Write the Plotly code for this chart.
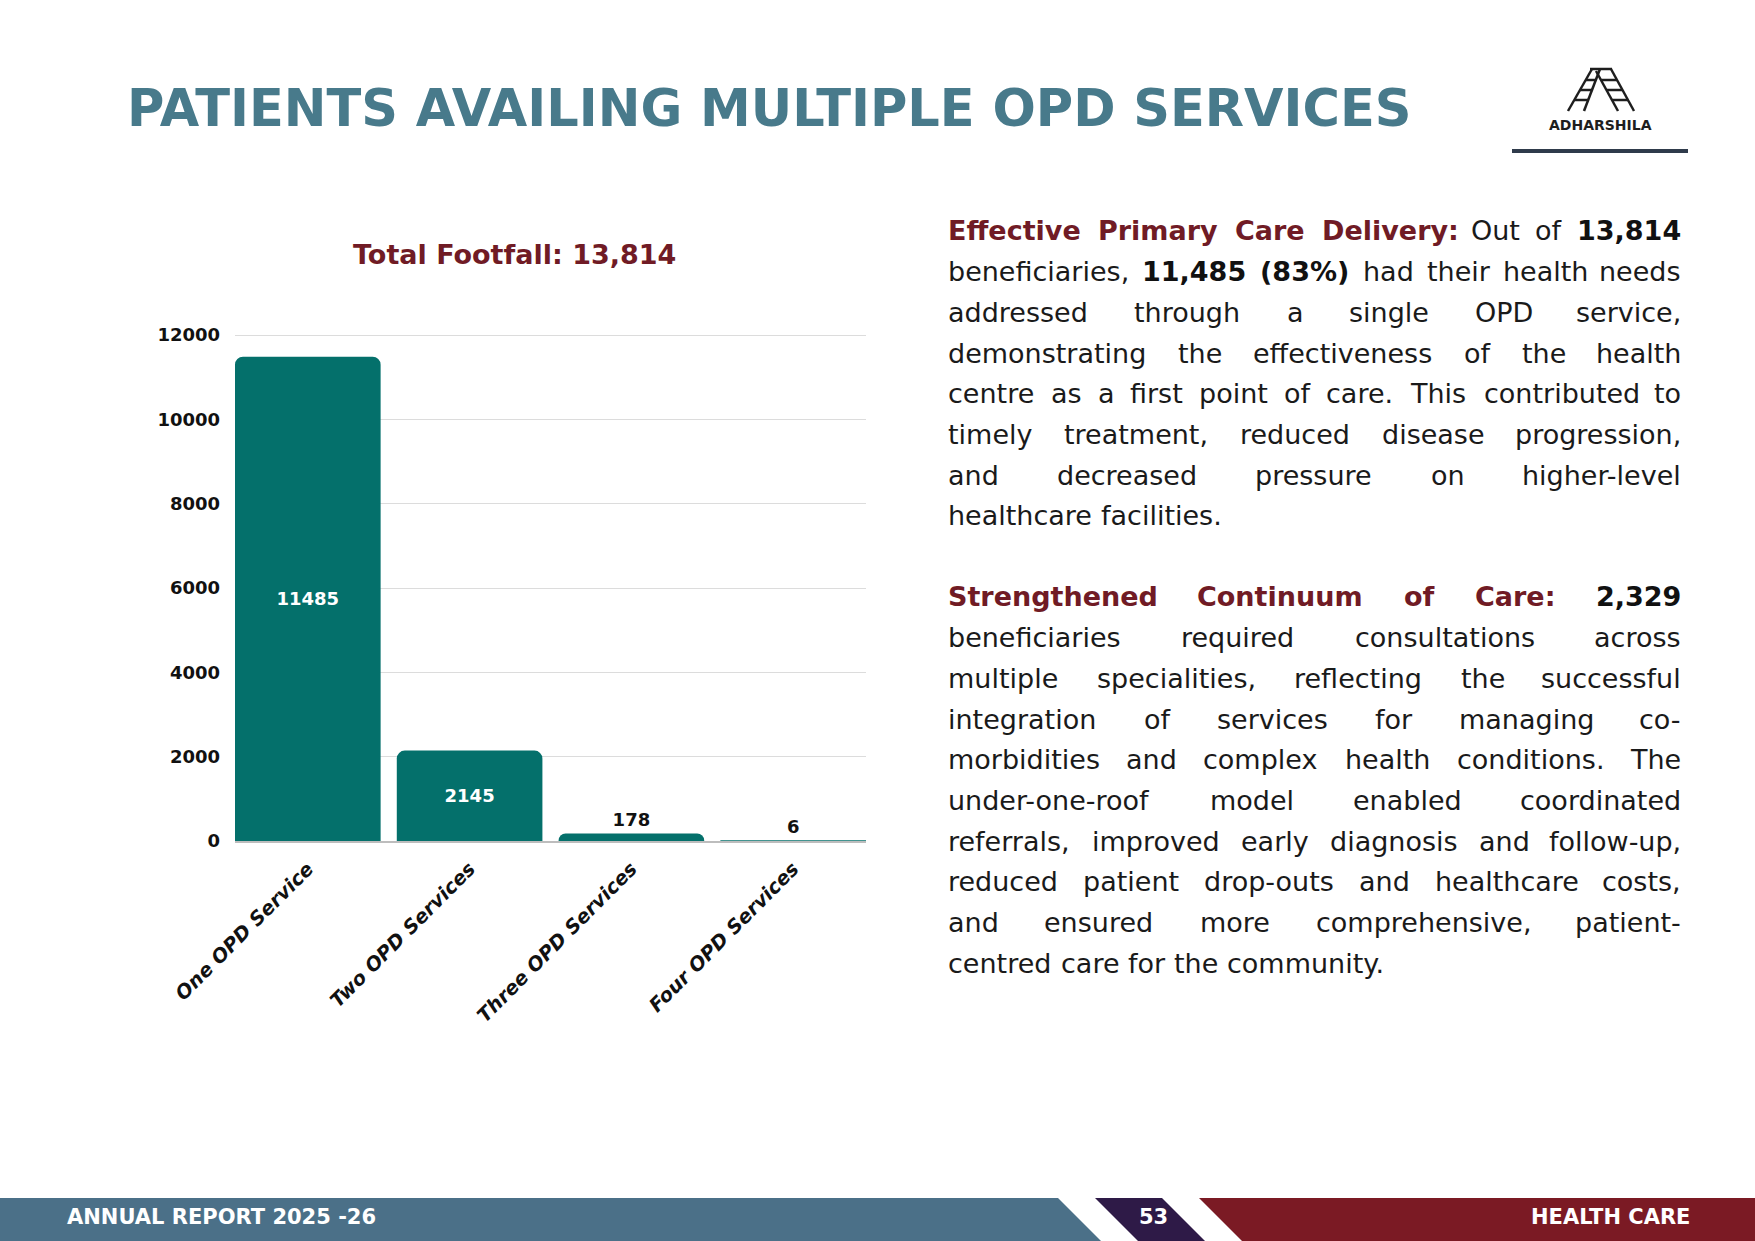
import plotly.graph_objects as go

# page size in px (the reference is a report page)
W, H = 1755, 1241

# ---- chart data ----
categories = ["One OPD Service", "Two OPD Services", "Three OPD Services", "Four OPD Services"]
patients = [11485, 2145, 178, 6]
label_inside = [True, True, False, False]
total_footfall = "13,814"
y_ticks = [0, 2000, 4000, 6000, 8000, 10000, 12000]
y_tick_text = ["0", "2000", "4000", "6000", "8000", "10000", "12000"]

page_title = "PATIENTS AVAILING MULTIPLE OPD SERVICES"
chart_title = "Total Footfall: " + total_footfall

# paragraph lines: "^word" = maroon bold, "*word" = bold
para_one = [
    "^Effective ^Primary ^Care ^Delivery: Out of *13,814",
    "beneficiaries, *11,485 *(83%) had their health needs",
    "addressed through a single OPD service,",
    "demonstrating the effectiveness of the health",
    "centre as a first point of care. This contributed to",
    "timely treatment, reduced disease progression,",
    "and decreased pressure on higher-level",
    "healthcare facilities.",
]
para_two = [
    "^Strengthened ^Continuum ^of ^Care: *2,329",
    "beneficiaries required consultations across",
    "multiple specialities, reflecting the successful",
    "integration of services for managing co-",
    "morbidities and complex health conditions. The",
    "under-one-roof model enabled coordinated",
    "referrals, improved early diagnosis and follow-up,",
    "reduced patient drop-outs and healthcare costs,",
    "and ensured more comprehensive, patient-",
    "centred care for the community.",
]

FONT = "DejaVu Sans"
TEAL = "#04706b"
MAROON = "#701b25"
SLATE = "#487a8b"


def px(x):
    return x / W


def py(y):
    return 1 - y / H


# rough DejaVu Sans advance widths (em), used to spread words for justified text
CHAR_W = {
    "a": .613, "b": .635, "c": .550, "d": .635, "e": .615, "f": .352, "g": .635,
    "h": .634, "i": .278, "j": .278, "k": .579, "l": .278, "m": .974, "n": .634,
    "o": .612, "p": .635, "q": .635, "r": .411, "s": .521, "t": .392, "u": .634,
    "v": .592, "w": .818, "x": .592, "y": .592, "z": .525, ",": .318, ".": .318,
    ":": .337, "-": .361, "(": .390, ")": .390, "%": .950, " ": .318,
}


def word_width(word, size, bold):
    w = 0
    for ch in word:
        if ch.isdigit():
            w += .636
        elif ch in CHAR_W:
            w += CHAR_W[ch]
        else:
            w += .70
    return w * size * (1.11 if bold else 1.0)


def paragraph(lines, x0, x1, y0, step, size):
    anns = []
    for i, line in enumerate(lines):
        y = y0 + i * step
        words = []
        for tok in line.split(" "):
            if tok.startswith("^"):
                words.append((tok[1:], MAROON, 700))
            elif tok.startswith("*"):
                words.append((tok[1:], "#111111", 700))
            else:
                words.append((tok, "#1a1a1a", 400))
        widths = [word_width(w, size, wt == 700) for w, c, wt in words]
        last = i == len(lines) - 1
        if last or len(words) < 2:
            gap = CHAR_W[" "] * size
        else:
            gap = max((x1 - x0 - sum(widths)) / (len(words) - 1), 0.2 * size)
        x = x0
        for j, (w, c, wt) in enumerate(words):
            if not last and j == len(words) - 1 and len(words) > 1:
                xa, xpos = "right", x1
            else:
                xa, xpos = "left", x
            anns.append(dict(
                x=px(xpos), y=py(y), xref="paper", yref="paper",
                xanchor=xa, yanchor="middle", showarrow=False, text=w,
                borderpad=0,
                font=dict(family=FONT, size=size, color=c, weight=wt),
            ))
            x += widths[j] + gap
    return anns


fig = go.Figure()

fig.add_trace(go.Bar(
    x=categories,
    y=patients,
    marker=dict(color=TEAL, line=dict(width=0)),
    text=[str(v) for v in patients],
    textposition=["inside" if f else "outside" for f in label_inside],
    insidetextanchor="middle",
    textangle=0,
    constraintext="none",
    insidetextfont=dict(family=FONT, size=18, color="white", weight=700),
    outsidetextfont=dict(family=FONT, size=18, color="#111111", weight=700),
    cliponaxis=False,
    hoverinfo="skip",
))

annotations = []

# page heading
annotations.append(dict(
    x=px(125), y=py(108), xref="paper", yref="paper", xanchor="left", yanchor="middle",
    showarrow=False, text=page_title,
    font=dict(family=FONT, size=51, color=SLATE, weight=700),
))

# chart title
annotations.append(dict(
    x=px(514), y=py(254), xref="paper", yref="paper", xanchor="center", yanchor="middle",
    showarrow=False, text=chart_title,
    font=dict(family=FONT, size=27, color=MAROON, weight=700),
))

# right-hand text block
annotations += paragraph(para_one, 947, 1682, 231, 40.7, 27)
annotations += paragraph(para_two, 947, 1682, 597, 40.7, 27)

# logo text
annotations.append(dict(
    x=px(1600), y=py(125), xref="paper", yref="paper", xanchor="center", yanchor="middle",
    showarrow=False, text="ADHARSHILA",
    font=dict(family=FONT, size=14, color="#1e1e1e", weight=700),
))

# footer texts
footer_font = dict(family=FONT, size=21, color="white", weight=700)
annotations.append(dict(x=px(65), y=py(1217), xref="paper", yref="paper", xanchor="left",
                        yanchor="middle", showarrow=False, text="ANNUAL REPORT 2025 -26",
                        font=footer_font))
annotations.append(dict(x=px(1153), y=py(1217), xref="paper", yref="paper", xanchor="center",
                        yanchor="middle", showarrow=False, text="53", font=footer_font))
annotations.append(dict(x=px(1692), y=py(1217), xref="paper", yref="paper", xanchor="right",
                        yanchor="middle", showarrow=False, text="HEALTH CARE", font=footer_font))


def poly(points, color):
    d = "M " + " L ".join("%.5f %.5f" % (px(a), py(b)) for a, b in points) + " Z"
    return dict(type="path", xref="paper", yref="paper", path=d,
                fillcolor=color, line=dict(width=0), layer="above")


def seg(x0, y0, x1, y1, color="#1e1e1e", width=2.5):
    return dict(type="line", xref="paper", yref="paper",
                x0=px(x0), y0=py(y0), x1=px(x1), y1=py(y1),
                line=dict(color=color, width=width))


shapes = [
    poly([(0, 1198), (1058, 1198), (1101, 1241), (0, 1241)], "#4b7088"),
    poly([(1095, 1198), (1162, 1198), (1205, 1241), (1138, 1241)], "#2e1a47"),
    poly([(1199, 1198), (1755, 1198), (1755, 1241), (1242, 1241)], "#7b1a24"),
    # logo underline
    seg(1512, 151, 1688, 151, "#2f3b4b", 4),
]

# ladder icon of the logo
legs = [((1592, 69), (1568, 111)), ((1600, 69), (1584, 111)),
        ((1611, 69), (1634, 111)), ((1596, 71), (1618, 111))]
shapes.append(seg(1590, 69, 1612, 69))
for (a, b) in legs:
    shapes.append(seg(a[0], a[1], b[0], b[1]))


def leg_x(leg, y):
    (xa, ya), (xb, yb) = leg
    return xa + (xb - xa) * (y - ya) / (yb - ya)


for ry in (80, 90, 100):
    shapes.append(seg(leg_x(legs[0], ry), ry, leg_x(legs[1], ry), ry))
    shapes.append(seg(leg_x(legs[3], ry), ry, leg_x(legs[2], ry), ry))

y_top = 12040  # a little headroom so the 12000 gridline is drawn

fig.update_layout(
    width=W, height=H,
    margin=dict(l=0, r=0, t=0, b=0, pad=0, autoexpand=False),
    paper_bgcolor="white", plot_bgcolor="white",
    showlegend=False,
    bargap=0.1,
    barcornerradius=8,
    annotations=annotations,
    shapes=shapes,
    xaxis=dict(
        domain=[px(235), px(866)],
        range=[-0.45, len(categories) - 0.55],
        tickangle=-45,
        tickfont=dict(family=FONT, size=19.5, color="#111111", weight=700, style="italic"),
        showline=True, linecolor="#bdbdbd", linewidth=1.5,
        showgrid=False, ticks="", fixedrange=True, automargin=False,
        ticklabelstandoff=7,
    ),
    yaxis=dict(
        domain=[py(841), py(841 - 506 * y_top / 12000)],
        range=[0, y_top],
        tickvals=y_ticks,
        ticktext=y_tick_text,
        tickfont=dict(family=FONT, size=18, color="#111111", weight=700),
        gridcolor="#dcdcdc", gridwidth=1,
        zeroline=False, showline=False, ticks="",
        ticklabelstandoff=14, fixedrange=True, automargin=False,
    ),
)

# drop the default page margin so the figure fills the window exactly
fig.write_html("out.html",
               config={"displayModeBar": False},
               post_script="document.body.style.margin='0';document.body.style.overflow='hidden';")
